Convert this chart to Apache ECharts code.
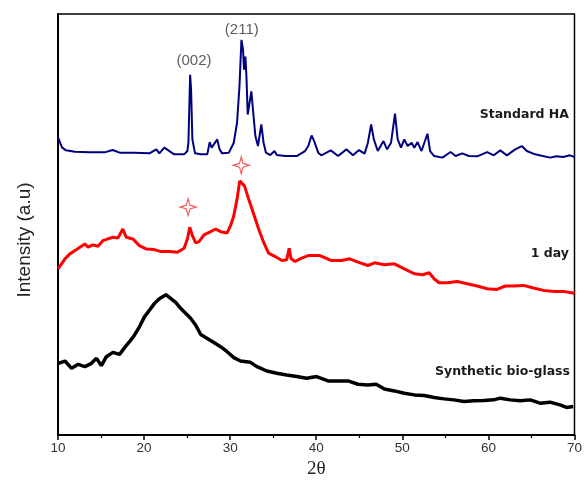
<!DOCTYPE html>
<html>
<head>
<meta charset="utf-8">
<script src="https://cdn.jsdelivr.net/npm/echarts@6/dist/echarts.min.js"></script>
<style>
html,body{margin:0;padding:0;background:#fff;}
#chart{width:585px;height:484px;}
</style>
</head>
<body>
<div id="chart"></div>
<script>
// 2θ (degrees), intensity (arbitrary units, offset stacked)
var standardHA = [[10.0,299],[10.12,298],[10.46,289],[10.92,286],[11.96,284.5],[13.69,284],[15.42,284],[16.35,286.3],[17.15,283.7],[18.88,283.5],[20.62,283],[21.42,287],[21.77,283],[22.35,288.7],[23.5,282],[24.65,282],[25.03,285.3],[25.15,293.7],[25.35,362],[25.46,347],[25.61,297],[25.92,283],[26.58,282],[27.34,282],[27.62,294.3],[27.85,288.7],[28.03,290.3],[28.5,297],[28.77,287],[29.07,283],[29.85,283.7],[30.42,293.7],[30.8,313.7],[31.08,350.3],[31.31,397],[31.5,387],[31.61,367],[31.77,380.3],[31.89,360.3],[32.04,322],[32.23,321],[32.46,345.3],[32.65,327],[32.93,300.3],[33.23,290.3],[33.62,312],[33.88,293.7],[34.15,283.7],[34.66,281.3],[35.15,285.3],[35.42,281.3],[36.39,280.3],[37.73,280.3],[38.7,285.3],[39.08,290.3],[39.46,301],[39.77,295],[40.23,283.7],[40.58,281],[41.69,286],[42.54,280.3],[43.5,287],[44.27,281],[44.96,286.3],[45.62,282.7],[46.0,293.7],[46.38,312],[46.69,297],[47.15,285.3],[47.81,295.3],[48.23,287],[48.69,293.7],[49.15,323],[49.46,297],[49.84,288.7],[50.23,297],[50.62,290.3],[51.08,293.7],[51.39,288.7],[51.77,294.3],[52.23,285.3],[52.92,302.7],[53.23,285.3],[53.7,280.3],[54.65,278.7],[55.61,284.3],[56.19,280.3],[56.96,283],[57.73,280.3],[58.69,280],[59.85,284.3],[60.62,281],[61.38,286],[62.15,281],[63.11,287],[63.88,290.3],[64.46,285.3],[65.42,282],[66.19,280.5],[67.15,278.7],[67.92,280],[68.69,279.3],[69.46,281],[70.0,279.3]];

var oneDay = [[10.0,167],[10.23,169.7],[10.81,177],[11.38,182],[12.16,186.3],[13.12,192],[13.5,188.7],[14.07,191],[14.65,189.7],[15.23,195.3],[15.8,197],[16.38,198.7],[16.96,198],[17.53,207],[17.92,198.7],[18.69,197],[19.46,190.3],[20.23,187],[21.19,186.3],[21.96,184.3],[22.92,184.3],[23.88,183.7],[24.65,187.7],[25.03,197],[25.31,208.7],[25.61,200.3],[26.0,193],[26.38,194.3],[26.96,201],[27.73,204.3],[28.31,207],[28.89,204.3],[29.65,203],[30.04,210.3],[30.42,220.3],[30.8,237],[31.11,255.3],[31.31,256.3],[31.66,250.3],[32.15,237],[32.73,222],[33.31,207],[33.88,193.7],[34.46,182.7],[35.23,179.3],[36.0,175.3],[36.57,176],[36.85,187.7],[37.08,177],[37.54,174.3],[38.3,177.7],[39.08,180.3],[40.43,180.3],[41.77,175.3],[42.92,175.3],[43.89,177],[44.85,173.7],[46.0,170.3],[46.77,173],[47.92,171],[49.08,172],[50.23,167],[51.39,162],[52.35,161],[53.12,163],[53.69,157],[54.27,153],[55.23,153],[56.38,154.3],[57.54,152],[58.69,149.7],[59.85,147],[61.0,146.3],[61.96,149.7],[62.92,149.7],[64.08,150.3],[65.23,147.7],[66.39,145.3],[67.54,144.3],[68.69,144.3],[69.65,143],[70.0,142]];

var bioGlass = [[10.03,72],[10.81,74.3],[11.58,67],[12.34,71],[13.12,68.7],[13.89,72],[14.47,77],[15.04,69.7],[15.62,78.7],[16.38,83],[17.15,81],[17.73,87.7],[18.31,93.7],[18.88,100.3],[19.46,108.7],[20.04,118.7],[20.62,125.3],[21.19,132],[21.77,137],[22.54,141],[23.12,137],[23.7,133],[24.27,127],[24.85,122],[25.43,117],[26.0,110.3],[26.58,101],[27.34,97],[28.11,93],[28.89,88.7],[29.65,83.7],[30.42,77.7],[31.2,74.3],[32.35,73],[33.11,68.7],[34.27,64.3],[35.42,62],[36.57,60.3],[37.73,58.7],[38.88,57],[40.03,58.7],[41.38,54.3],[42.54,54.3],[43.69,54.3],[44.85,51],[46.0,50.3],[46.96,51],[47.92,46.3],[49.08,44.3],[50.23,42],[51.39,40.3],[52.54,39.7],[53.69,37.7],[54.85,36.3],[56.0,35.3],[57.15,33.7],[58.31,34.3],[59.46,34.7],[60.62,35.3],[61.38,37],[62.54,35.3],[63.69,34.3],[64.85,35.3],[66.0,32],[67.15,33],[68.31,30.3],[69.08,27.7],[69.85,28.7]];

var starMarks = [[25.12,229],[31.29,271]];
var peakLabels = [[25.8,376,'(002)'],[31.35,407,'(211)']];
var xTicks = [10,20,30,40,50,60,70];

var chart = echarts.init(document.getElementById('chart'), null, {renderer:'canvas'});
var starPath = 'path://M0,-10 L2.2,-2.2 L10,0 L2.2,2.2 L0,10 L-2.2,2.2 L-10,0 L-2.2,-2.2 Z';
var sans = "'Liberation Sans', Arial, sans-serif";

chart.setOption({
  animation:false,
  backgroundColor:'#fff',
  grid:{left:58,right:7,top:14,bottom:47,show:true,borderColor:'#000',borderWidth:1.5,backgroundColor:'transparent'},
  xAxis:{type:'value',min:10,max:70,interval:10,
    axisLine:{lineStyle:{color:'#000',width:2}},
    axisTick:{show:true,inside:false,length:5,lineStyle:{color:'#000',width:1.5}},
    minorTick:{show:true,splitNumber:2,length:3,lineStyle:{color:'#000',width:1.2}},
    splitLine:{show:false},
    axisLabel:{color:'#333',fontSize:13.5,fontFamily:sans,margin:6,
      formatter:function(v){return xTicks.indexOf(v)>=0?String(v):'';}},
    name:'2\u03b8',nameLocation:'middle',nameGap:25,
    nameTextStyle:{fontFamily:"'Liberation Serif', 'Times New Roman', serif",fontSize:19,color:'#222'}
  },
  yAxis:{type:'value',min:0,max:423,
    axisLine:{show:true,lineStyle:{color:'#000',width:2}},
    axisTick:{show:false},axisLabel:{show:false},splitLine:{show:false}
  },
  series:[
    {name:'Standard HA',type:'line',data:standardHA,showSymbol:false,
      lineStyle:{color:'#000080',width:2},itemStyle:{color:'#000080'}},
    {name:'1 day',type:'line',data:oneDay,showSymbol:false,
      lineStyle:{color:'#ff0000',width:3},itemStyle:{color:'#ff0000'}},
    {name:'Synthetic bio-glass',type:'line',data:bioGlass,showSymbol:false,
      lineStyle:{color:'#000000',width:3.5},itemStyle:{color:'#000'}},
    {type:'scatter',data:starMarks,symbol:starPath,symbolSize:[16,17],
      itemStyle:{color:'#fff',borderColor:'#ee3333',borderWidth:1.2}},
    {type:'scatter',data:peakLabels.map(function(p){return {value:[p[0],p[1]],label:{formatter:p[2]}};}),
      symbolSize:0,
      label:{show:true,position:'inside',color:'#333',fontSize:15,fontFamily:sans}}
  ],
  graphic:[
    {type:'text',x:25,y:240,rotation:Math.PI/2,
      style:{text:'Intensity (a.u)',font:"19px 'Liberation Sans', Arial",fill:'#222',textAlign:'center',textVerticalAlign:'middle'}},
    {type:'text',right:16,top:108,style:{text:'Standard HA',font:'bold 12.5px "DejaVu Sans"',fill:'#1a1a1a'}},
    {type:'text',right:16,top:247,style:{text:'1 day',font:'bold 12.5px "DejaVu Sans"',fill:'#1a1a1a'}},
    {type:'text',right:15,top:365,style:{text:'Synthetic bio-glass',font:'bold 12.5px "DejaVu Sans"',fill:'#1a1a1a'}}
  ]
});
</script>
</body>
</html>
